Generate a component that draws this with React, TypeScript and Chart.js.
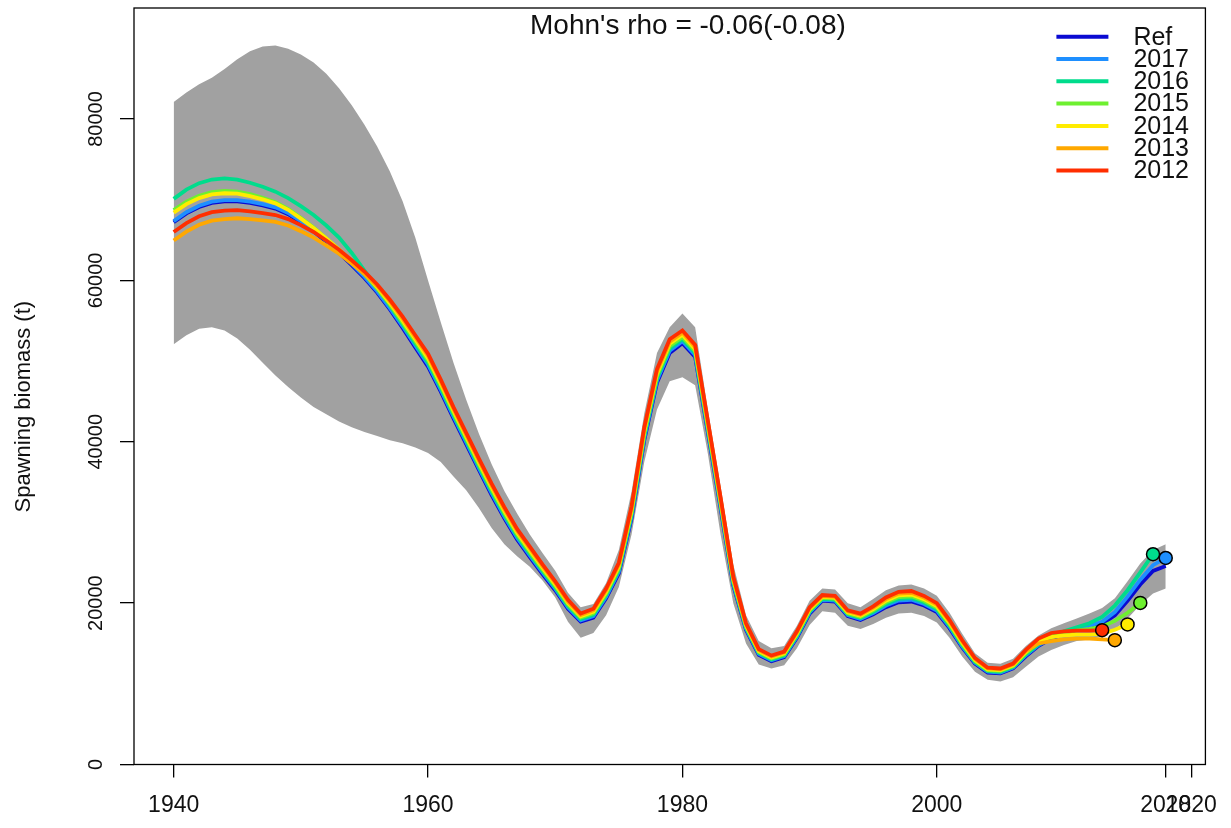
import React, { useEffect, useRef } from "react";
import { Chart, registerables } from "chart.js";

Chart.register(...registerables);

const FAMILY = '"Liberation Sans", Arial, Helvetica, sans-serif';

const years = [
  1940, 1941, 1942, 1943, 1944, 1945, 1946, 1947, 1948, 1949,
  1950, 1951, 1952, 1953, 1954, 1955, 1956, 1957, 1958, 1959,
  1960, 1961, 1962, 1963, 1964, 1965, 1966, 1967, 1968, 1969,
  1970, 1971, 1972, 1973, 1974, 1975, 1976, 1977, 1978, 1979,
  1980, 1981, 1982, 1983, 1984, 1985, 1986, 1987, 1988, 1989,
  1990, 1991, 1992, 1993, 1994, 1995, 1996, 1997, 1998, 1999,
  2000, 2001, 2002, 2003, 2004, 2005, 2006, 2007, 2008, 2009,
  2010, 2011, 2012, 2013, 2014, 2015, 2016, 2017, 2018,
];

const ssbRef = [
  67200, 68300, 69100, 69600, 69800, 69800, 69600, 69300, 68900, 68200,
  67200, 66100, 64800, 63400, 61900, 60300, 58500, 56400, 54100, 51700,
  49300, 46200, 42900, 39700, 36500, 33400, 30500, 27900, 25700, 23600,
  21600, 19300, 17700, 18200, 20600, 23700, 30500, 40200, 47300, 51000,
  52200, 50500, 41200, 31800, 22200, 16700, 13600, 12800, 13300, 15700,
  18700, 20300, 20200, 18400, 17900, 18600, 19500, 20100, 20200, 19700,
  18900, 16900, 14500, 12500, 11400, 11300, 11900, 13400, 14700, 15600,
  16200, 16700, 17000, 17400, 18500, 20300, 22300, 24000, 24600,
];

const ssbUpper = [
  82100, 83300, 84300, 85100, 86200, 87400, 88400, 89000, 89100, 88700,
  88000, 87000, 85600, 83800, 81700, 79300, 76600, 73500, 69800, 65300,
  60000, 54800, 49800, 45200, 41000, 37200, 33900, 31100, 28500, 26200,
  24000, 21300, 19500, 19900, 22500, 26600, 33800, 43500, 51000, 54200,
  55900, 54200, 44000, 34500, 24800, 18500, 15300, 14400, 14700, 17200,
  20300, 21800, 21700, 20000, 19500, 20500, 21600, 22200, 22300, 21800,
  20900, 18800, 16200, 13800, 12600, 12500, 13100, 14700, 16000, 16900,
  17500, 18100, 18700, 19400, 20600, 22700, 24900, 26600, 27300,
];

const ssbLower = [
  52100, 53200, 54000, 54200, 53800, 52800, 51400, 49800, 48200, 46800,
  45500, 44300, 43400, 42500, 41800, 41200, 40700, 40200, 39800, 39300,
  38600, 37500, 35700, 34000, 31800, 29300, 27300, 25800, 24500, 22800,
  20700, 17700, 15700, 16300, 18500, 22000, 28500, 37500, 44000, 47500,
  48000, 47000, 38500, 28500, 20000, 15000, 12400, 11900, 12300, 14400,
  17300, 19000, 18800, 17200, 16800, 17400, 18200, 18700, 18800, 18400,
  17600, 15700, 13400, 11500, 10500, 10300, 10800, 12100, 13400, 14200,
  14800, 15300, 15500, 15900, 16700, 18100, 19800, 21200, 21800,
];

// Retrospective peels (each ends one year after its terminal year)
const ssb2017 = [
  67350, 68450, 69250, 69750, 69950, 69950, 69750, 69450, 69050, 68350,
  67350, 66250, 64950, 63550, 62050, 60450, 58650, 56550, 54340, 51950,
  49570, 46450, 43140, 39940, 36740, 33640, 30740, 28120, 25920, 23800,
  21790, 19490, 17870, 18390, 20800, 23920, 30750, 40470, 47590, 51290,
  52470, 50750, 41440, 32020, 22390, 16840, 13720, 12920, 13420, 15840,
  18840, 20420, 20320, 18520, 18040, 18770, 19700, 20320, 20420, 19900,
  19090, 17070, 14650, 12620, 11500, 11400, 12000, 13540, 14800, 15700,
  16300, 16800, 17200, 17700, 18900, 20800, 22900, 24700, 25600,
];

const ssb2016 = [
  70100, 71250, 72050, 72500, 72650, 72500, 72100, 71600, 71000, 70200,
  69200, 68100, 66800, 65300, 63400, 61200, 59100, 56900, 54560, 52200,
  49830, 46700, 43360, 40160, 36960, 33860, 30960, 28330, 26130, 24000,
  21960, 19660, 18030, 18560, 21000, 24130, 31000, 40730, 47860, 51560,
  52730, 51000, 41660, 32230, 22560, 16960, 13830, 13030, 13530, 15960,
  18960, 20530, 20430, 18630, 18160, 18930, 19900, 20530, 20630, 20100,
  19260, 17230, 14800, 12730, 11600, 11500, 12100, 13660, 14900, 15800,
  16500, 17000, 17500, 18300, 19700, 21600, 23800, 26060,
];

const ssb2015 = [
  68700, 69750, 70500, 70950, 71100, 71000, 70700, 70250, 69700, 68850,
  67750, 66550, 65200, 63800, 62300, 60750, 59000, 57000, 54800, 52450,
  50100, 46950, 43600, 40400, 37200, 34100, 31200, 28550, 26350, 24200,
  22150, 19850, 18200, 18750, 21200, 24350, 31250, 41000, 48150, 51850,
  53000, 51250, 41900, 32450, 22750, 17100, 13950, 13150, 13650, 16100,
  19100, 20650, 20550, 18750, 18300, 19100, 20100, 20750, 20850, 20300,
  19450, 17400, 14950, 12850, 11700, 11600, 12200, 13800, 15100, 15900,
  16400, 16600, 16800, 17100, 17800, 18800, 20030,
];

const ssb2014 = [
  68400, 69450, 70200, 70650, 70800, 70750, 70450, 70050, 69550, 68750,
  67650, 66500, 65200, 63850, 62400, 60900, 59200, 57200, 55040, 52700,
  50370, 47200, 43840, 40640, 37440, 34340, 31440, 28770, 26570, 24400,
  22340, 20040, 18370, 18940, 21400, 24570, 31500, 41270, 48440, 52140,
  53270, 51500, 42140, 32670, 22940, 17240, 14070, 13270, 13770, 16240,
  19240, 20770, 20670, 18870, 18440, 19270, 20300, 20970, 21070, 20500,
  19640, 17570, 15100, 12970, 11800, 11700, 12300, 13940, 15300, 15800,
  16000, 16100, 16100, 16200, 16700, 17360,
];

const ssb2013 = [
  64950, 66050, 66900, 67400, 67600, 67700, 67600, 67450, 67250, 66800,
  66100, 65300, 64350, 63300, 62100, 60800, 59300, 57400, 55260, 52950,
  50630, 47450, 44060, 40860, 37660, 34560, 31660, 28980, 26780, 24600,
  22510, 20210, 18530, 19110, 21600, 24780, 31750, 41530, 48710, 52410,
  53530, 51750, 42360, 32880, 23110, 17360, 14180, 13380, 13880, 16360,
  19360, 20880, 20780, 18980, 18560, 19430, 20500, 21180, 21280, 20700,
  19810, 17730, 15250, 13080, 11900, 11800, 12400, 14060, 15000, 15300,
  15500, 15600, 15600, 15500, 15410,
];

const ssb2012 = [
  66000, 67100, 67950, 68450, 68650, 68700, 68550, 68350, 68100, 67600,
  66850, 66000, 64950, 63800, 62500, 61100, 59500, 57600, 55500, 53200,
  50900, 47700, 44300, 41100, 37900, 34800, 31900, 29200, 27000, 24800,
  22700, 20400, 18700, 19300, 21800, 25000, 32000, 41800, 49000, 52700,
  53800, 52000, 42600, 33100, 23300, 17500, 14300, 13500, 14000, 16500,
  19500, 21000, 20900, 19100, 18700, 19600, 20700, 21400, 21500, 20900,
  20000, 17900, 15400, 13200, 12000, 11900, 12500, 14200, 15600, 16300,
  16500, 16600, 16600, 16650,
];

const xTicks = [1940, 1960, 1980, 2000, 2018, 2020];
const yTicks = [0, 20000, 40000, 60000, 80000];
const titleText = "Mohn's rho = -0.06(-0.08)";
const yTitle = "Spawning biomass (t)";

const legendLabels = ["Ref", "2017", "2016", "2015", "2014", "2013", "2012"];
const legendColors = ["#0A0AD2", "#1E8FFF", "#00DC8C", "#6EF030", "#FFEC00", "#FFA800", "#FF2E00"];

const retroSeries = [
  { label: "2012", values: ssb2012, color: "#FF2E00" },
  { label: "2013", values: ssb2013, color: "#FFA800" },
  { label: "2014", values: ssb2014, color: "#FFEC00" },
  { label: "2015", values: ssb2015, color: "#6EF030" },
  { label: "2016", values: ssb2016, color: "#00DC8C" },
  { label: "2017", values: ssb2017, color: "#1E8FFF" },
];

const toXY = (vals: number[]) => vals.map((v, i) => ({ x: years[i], y: v }));

const overlayPlugin = {
  id: "overlay",
  afterDraw(chart: any) {
    const { ctx, chartArea } = chart;
    const { left, top, right, bottom } = chartArea;
    ctx.save();
    ctx.strokeStyle = "#000";
    ctx.lineWidth = 1.3;
    ctx.strokeRect(left, top, right - left, bottom - top);

    // title inside the plot box
    ctx.fillStyle = "#111";
    ctx.font = `28px ${FAMILY}`;
    ctx.textAlign = "center";
    ctx.textBaseline = "middle";
    ctx.fillText(titleText, left + (right - left) * 0.517, top + 18);

    // y axis title
    ctx.save();
    ctx.font = `22px ${FAMILY}`;
    ctx.translate(24, top + (bottom - top) * 0.527);
    ctx.rotate(-Math.PI / 2);
    ctx.fillText(yTitle, 0, 0);
    ctx.restore();

    // legend
    ctx.font = `25px ${FAMILY}`;
    ctx.textAlign = "left";
    for (let i = 0; i < legendLabels.length; i++) {
      const y = top + 28.7 + i * 22.3;
      ctx.strokeStyle = legendColors[i];
      ctx.lineWidth = 4;
      ctx.beginPath();
      ctx.moveTo(right - 149, y);
      ctx.lineTo(right - 97, y);
      ctx.stroke();
      ctx.fillStyle = "#111";
      ctx.fillText(legendLabels[i], right - 72, y + 1);
    }
    ctx.restore();
  },
};

export default function App() {
  const canvasRef = useRef<HTMLCanvasElement | null>(null);

  useEffect(() => {
    document.body.style.margin = "0";
    const canvas = canvasRef.current;
    if (!canvas) return;

    const datasets: any[] = [];
    retroSeries.forEach((s) => {
      const last = s.values.length - 1;
      datasets.push({
        label: s.label,
        data: toXY(s.values),
        borderColor: s.color,
        backgroundColor: s.color,
        borderWidth: 3.8,
        pointRadius: (ctx: any) => (ctx.dataIndex === last ? 6.5 : 0),
        pointBackgroundColor: s.color,
        pointBorderColor: "#000",
        pointBorderWidth: 1.5,
        tension: 0,
        fill: false,
      });
    });
    datasets.push({
      label: "Ref",
      data: toXY(ssbRef),
      borderColor: "#0A0AD2",
      borderWidth: 3.8,
      pointRadius: 0,
      tension: 0,
      fill: false,
    });
    datasets.push({
      label: "upper",
      data: toXY(ssbUpper),
      borderWidth: 0,
      borderColor: "rgba(0,0,0,0)",
      backgroundColor: "#A1A1A1",
      pointRadius: 0,
      fill: "+1",
      tension: 0,
    });
    datasets.push({
      label: "lower",
      data: toXY(ssbLower),
      borderWidth: 0,
      borderColor: "rgba(0,0,0,0)",
      backgroundColor: "#A1A1A1",
      pointRadius: 0,
      fill: false,
      tension: 0,
    });

    const chart = new Chart(canvas, {
      type: "line",
      data: { datasets },
      plugins: [overlayPlugin],
      options: {
        animation: false,
        responsive: true,
        maintainAspectRatio: false,
        layout: { padding: { left: 0, top: 7, right: 19, bottom: 0 } },
        plugins: {
          legend: { display: false },
          tooltip: { enabled: false },
          title: { display: false },
        },
        scales: {
          x: {
            type: "linear",
            min: 1936.88,
            max: 2021.12,
            afterBuildTicks: (s: any) => {
              s.ticks = xTicks.map((v) => ({ value: v }));
            },
            afterFit: (s: any) => {
              s.height = 63.5;
            },
            ticks: {
              autoSkip: false,
              maxRotation: 0,
              minRotation: 0,
              padding: 14,
              color: "#111",
              font: { family: FAMILY, size: 23 },
              callback: (v: any) => String(v),
            },
            grid: { drawOnChartArea: false, drawTicks: true, tickLength: 13, color: "#000", lineWidth: 1.3 },
            border: { display: false },
          },
          y: {
            type: "linear",
            min: 0,
            max: 93760,
            afterBuildTicks: (s: any) => {
              s.ticks = yTicks.map((v) => ({ value: v }));
            },
            afterFit: (s: any) => {
              s.width = 134;
            },
            ticks: {
              autoSkip: false,
              minRotation: 90,
              maxRotation: 90,
              crossAlign: "center",
              padding: -4,
              color: "#111",
              font: { family: FAMILY, size: 20 },
              callback: (v: any) => String(v),
            },
            grid: { drawOnChartArea: false, drawTicks: true, tickLength: 14, color: "#000", lineWidth: 1.3 },
            border: { display: false },
            title: { display: false },
          },
        },
      },
    } as any);

    return () => chart.destroy();
  }, []);

  return (
    <div style={{ width: 1231, height: 828, position: "relative", background: "#fff" }}>
      <canvas ref={canvasRef} />
    </div>
  );
}
